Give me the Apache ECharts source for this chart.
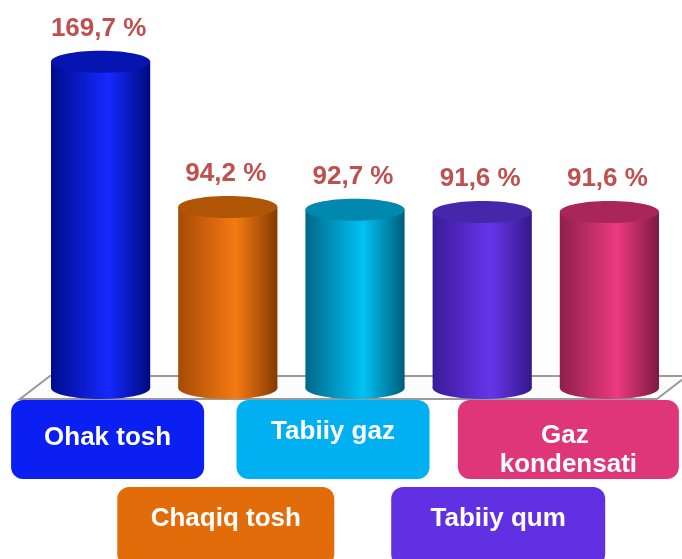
<!DOCTYPE html>
<html>
<head>
<meta charset="utf-8">
<script src="https://cdn.jsdelivr.net/npm/echarts@6/dist/echarts.min.js"></script>
<style>
  html, body { margin: 0; padding: 0; background: #fff; }
  #main { width: 682px; height: 559px; }
</style>
</head>
<body>
<div id="main"></div>
<script>
// data
var categories = ['Ohak tosh', 'Chaqiq tosh', 'Tabiiy gaz', 'Tabiiy qum', 'Gaz kondensati'];
var values = [169.7, 94.2, 92.7, 91.6, 91.6];

// cylinder colours: [left edge, highlight, right edge, top cap]
var cylColors = [
    ['#000c8c', '#1529ff', '#000a7c', '#0614b2'],
    ['#a64a06', '#f57a12', '#853a00', '#b05406'],
    ['#006888', '#00c2f4', '#005e7a', '#0088ae'],
    ['#3a1a98', '#6636ea', '#34188a', '#4627aa'],
    ['#8e1f4a', '#ec3a80', '#7c1a40', '#a82658']
];
// label boxes under the floor: shift from bar centre, row, width, colour
var boxLayout = [
    { dx: 7, row: 0, w: 193, color: '#0b1ff2', ty: 38 },
    { dx: -2, row: 1, w: 217, color: '#e36c0a', ty: 32 },
    { dx: -22, row: 0, w: 193, color: '#00b0f0', ty: 32 },
    { dx: 16, row: 1, w: 214, color: '#6030e2', ty: 32 },
    { dx: -41, row: 0, w: 221, color: '#df3579', ty: 36 }
];

var myChart = echarts.init(document.getElementById('main'));

var fmt = function (v) {
    return v.toFixed(1).replace('.', ',') + ' %';
};

var option = {
    animation: false,
    grid: { left: 37, right: 9, top: 42, bottom: 171 },
    xAxis: { type: 'category', data: categories, show: false },
    yAxis: { type: 'value', min: 0, max: 180, show: false },
    series: [
        {
            // floor
            type: 'custom',
            z: 1,
            data: [[0, 0]],
            renderItem: function (params, api) {
                var cs = params.coordSys;
                var base = cs.y + cs.height;
                return {
                    type: 'polygon',
                    shape: {
                        points: [
                            [cs.x - 17, base + 11],
                            [cs.x + cs.width - 16, base + 11],
                            [cs.x + cs.width + 14, base - 12],
                            [cs.x + 13, base - 12]
                        ]
                    },
                    style: { fill: '#fcfcfc', stroke: '#9a9a9a', lineWidth: 2 }
                };
            }
        },
        {
            type: 'custom',
            z: 2,
            data: values.map(function (v, i) { return [i, v]; }),
            renderItem: function (params, api) {
                var i = params.dataIndex;
                var top = api.coord([api.value(0), api.value(1)]);
                var base = api.coord([api.value(0), 0]);
                var w = api.size([1, 0])[0] * 0.78;
                var ry = 11;
                var c = cylColors[i];
                var grad = new echarts.graphic.LinearGradient(0, 0, 1, 0, [
                    { offset: 0, color: c[0] },
                    { offset: 0.58, color: c[1] },
                    { offset: 1, color: c[2] }
                ]);
                var b = boxLayout[i];
                var boxTop = b.row === 0 ? base[1] + 12 : base[1] + 99;
                var bx = top[0] + b.dx - b.w / 2;
                return {
                    type: 'group',
                    children: [
                        { type: 'ellipse', shape: { cx: top[0], cy: base[1], rx: w / 2, ry: ry }, style: { fill: grad } },
                        { type: 'rect', shape: { x: top[0] - w / 2, y: top[1], width: w, height: base[1] - top[1] }, style: { fill: grad } },
                        { type: 'ellipse', shape: { cx: top[0], cy: top[1], rx: w / 2, ry: ry }, style: { fill: c[3] } },
                        {
                            type: 'text',
                            x: top[0] - 2,
                            y: top[1] - ry - 22,
                            style: {
                                text: fmt(values[i]),
                                fill: '#c0504d',
                                font: 'bold 26px "Liberation Sans", Arial, sans-serif',
                                align: 'center',
                                verticalAlign: 'middle'
                            }
                        },
                        {
                            type: 'rect',
                            shape: { x: bx, y: boxTop, width: b.w, height: 79, r: 12 },
                            style: { fill: b.color }
                        },
                        {
                            type: 'text',
                            x: top[0] + b.dx,
                            y: boxTop + b.ty - 15,
                            style: {
                                text: categories[i],
                                fill: '#ffffff',
                                font: 'bold 26px "Liberation Sans", Arial, sans-serif',
                                align: 'center',
                                verticalAlign: 'top',
                                width: b.w - 40,
                                overflow: 'break',
                                lineHeight: 29
                            }
                        }
                    ]
                };
            }
        }
    ]
};

myChart.setOption(option);
</script>
</body>
</html>
